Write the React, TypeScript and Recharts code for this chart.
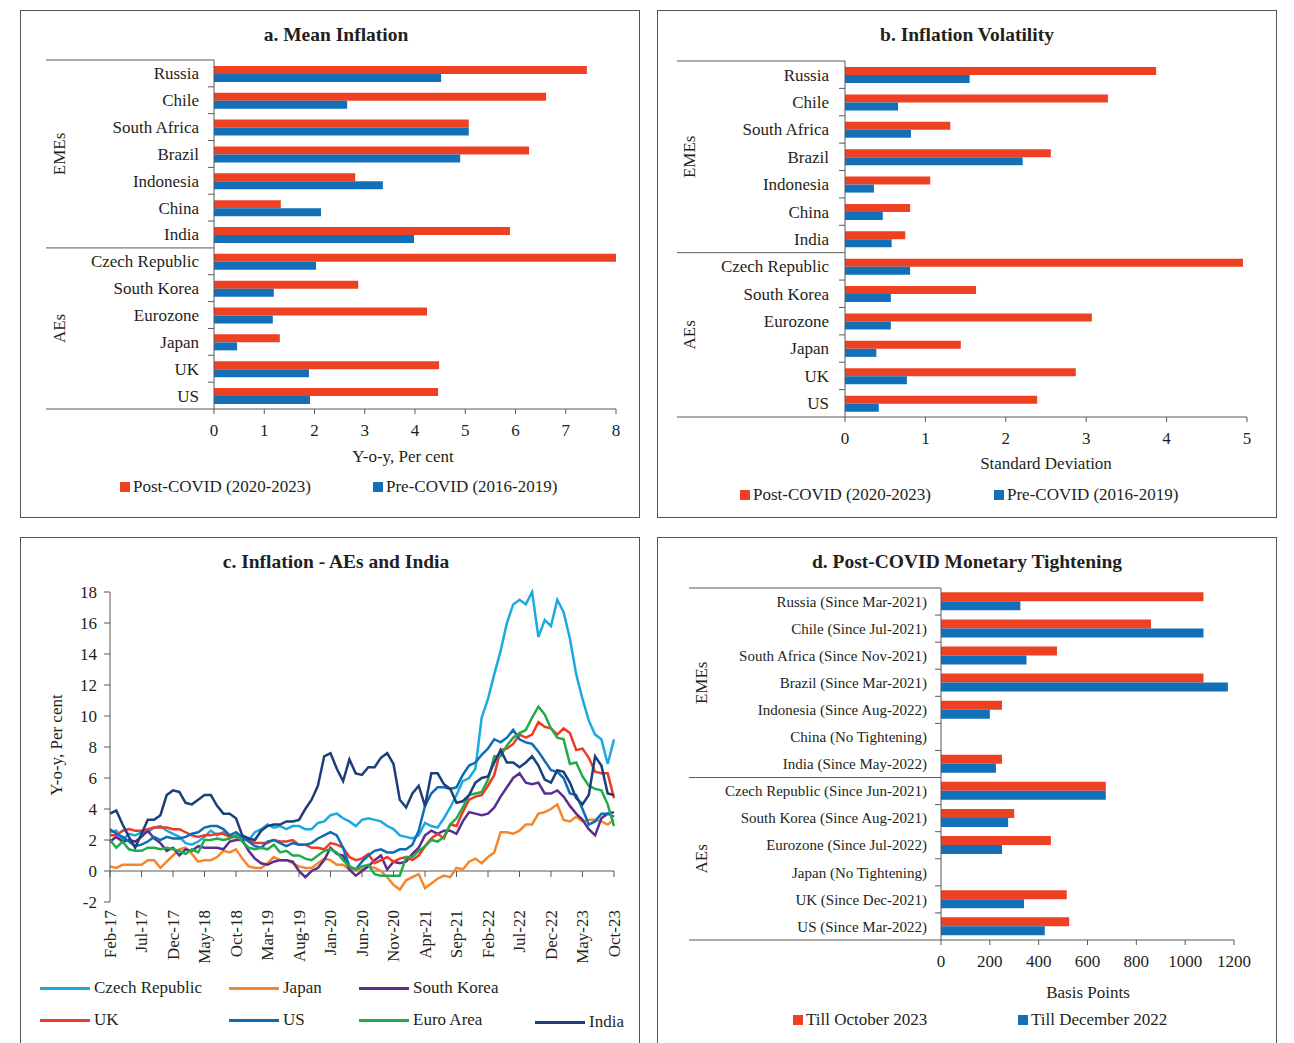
import React from "react";
import { BarChart, Bar, XAxis, YAxis, LineChart, Line, ReferenceLine } from "recharts";

const FONT = '"Liberation Serif", "Times New Roman", serif';
const INK = "#231f20";
const AXIS = "#595959";
const BORDER = "#555555";
const RED = "#ee4124";
const BLUE = "#1170b8";

// ---- panels a and b ----
const countries = [
  "Russia", "Chile", "South Africa", "Brazil", "Indonesia", "China", "India",
  "Czech Republic", "South Korea", "Eurozone", "Japan", "UK", "US",
];
const meanPost = [7.42, 6.61, 5.07, 6.27, 2.81, 1.33, 5.89, 8.0, 2.87, 4.24, 1.31, 4.48, 4.46];
const meanPre = [4.52, 2.65, 5.07, 4.9, 3.36, 2.13, 3.98, 2.03, 1.19, 1.17, 0.46, 1.89, 1.91];
const volPost = [3.87, 3.27, 1.31, 2.56, 1.06, 0.81, 0.75, 4.95, 1.63, 3.07, 1.44, 2.87, 2.39];
const volPre = [1.55, 0.66, 0.82, 2.21, 0.36, 0.47, 0.58, 0.81, 0.57, 0.57, 0.39, 0.77, 0.42];
const meanTicks = [0, 1, 2, 3, 4, 5, 6, 7, 8];
const volTicks = [0, 1, 2, 3, 4, 5];

// ---- panel d ----
const tightLabels = [
  "Russia (Since Mar-2021)", "Chile (Since Jul-2021)", "South Africa (Since Nov-2021)",
  "Brazil (Since Mar-2021)", "Indonesia (Since Aug-2022)", "China (No Tightening)",
  "India (Since May-2022)", "Czech Republic (Since Jun-2021)", "South Korea (Since Aug-2021)",
  "Eurozone (Since Jul-2022)", "Japan (No Tightening)", "UK (Since Dec-2021)", "US (Since Mar-2022)",
];
const tightOct23 = [1075, 860, 475, 1075, 250, null, 250, 675, 300, 450, null, 515, 525];
const tightDec22 = [325, 1075, 350, 1175, 200, null, 225, 675, 275, 250, null, 340, 425];
const bpTicks = [0, 200, 400, 600, 800, 1000, 1200];

// ---- panel c: monthly, Feb-17 .. Oct-23 ----
const MONTH_NAMES = ["Jan", "Feb", "Mar", "Apr", "May", "Jun", "Jul", "Aug", "Sep", "Oct", "Nov", "Dec"];
const months: string[] = [];
for (let i = 0; i < 81; i++) {
  months.push(`${MONTH_NAMES[(1 + i) % 12]}-${17 + Math.floor((1 + i) / 12)}`);
}
const czech = [
  2.5, 2.6, 2.0, 2.4, 2.3, 2.5, 2.5, 2.8, 2.9, 2.6, 2.4,
  2.2, 1.8, 1.7, 1.9, 2.2, 2.6, 2.3, 2.5, 2.3, 2.2, 2.0, 2.0,
  2.5, 2.7, 3.0, 2.8, 2.9, 2.7, 2.9, 2.9, 2.7, 2.7, 3.1, 3.2,
  3.6, 3.7, 3.4, 3.2, 2.9, 3.3, 3.4, 3.3, 3.2, 2.9, 2.7, 2.3,
  2.2, 2.1, 2.3, 3.1, 2.9, 2.8, 3.4, 4.1, 4.9, 5.8, 6.0, 6.6,
  9.9, 11.1, 12.7, 14.2, 16.0, 17.2, 17.5, 17.2, 18.0, 15.1, 16.2, 15.8,
  17.5, 16.7, 15.0, 12.7, 11.1, 9.7, 8.8, 8.5, 6.9, 8.5,
];
const japan = [
  0.3, 0.2, 0.4, 0.4, 0.4, 0.4, 0.7, 0.7, 0.2, 0.6, 1.0,
  1.4, 1.5, 1.1, 0.6, 0.7, 0.7, 0.9, 1.3, 1.2, 1.4, 0.8, 0.3,
  0.2, 0.2, 0.5, 0.9, 0.7, 0.7, 0.5, 0.3, 0.2, 0.2, 0.5, 0.8,
  0.7, 0.4, 0.4, 0.1, 0.1, 0.1, 0.3, 0.2, 0.0, -0.4, -0.9, -1.2,
  -0.6, -0.4, -0.2, -1.1, -0.8, -0.5, -0.3, -0.4, 0.2, 0.1, 0.6, 0.8,
  0.5, 0.9, 1.2, 2.5, 2.5, 2.4, 2.6, 3.0, 3.0, 3.7, 3.8, 4.0,
  4.3, 3.3, 3.2, 3.5, 3.2, 3.3, 3.3, 3.2, 3.0, 3.3,
];
const korea = [
  1.9, 2.2, 1.9, 2.0, 1.9, 2.2, 2.6, 2.1, 1.8, 1.3, 1.5,
  1.0, 1.4, 1.3, 1.6, 1.5, 1.5, 1.5, 1.4, 1.9, 2.0, 2.0, 1.3,
  0.8, 0.5, 0.4, 0.6, 0.7, 0.7, 0.6, 0.0, -0.4, 0.0, 0.2, 0.7,
  1.5, 1.1, 1.0, 0.1, -0.3, 0.0, 0.3, 0.7, 1.0, 0.1, 0.6, 0.5,
  0.6, 1.1, 1.5, 2.3, 2.6, 2.4, 2.6, 2.6, 2.4, 3.2, 3.8, 3.7,
  3.6, 3.7, 4.1, 4.8, 5.4, 6.0, 6.3, 5.7, 5.6, 5.7, 5.0, 5.0,
  5.2, 4.8, 4.2, 3.7, 3.3, 2.7, 2.3, 3.4, 3.7, 3.8,
];
const uk = [
  2.3, 2.3, 2.6, 2.7, 2.6, 2.6, 2.7, 2.8, 2.8, 2.8, 2.7,
  2.7, 2.5, 2.3, 2.2, 2.3, 2.3, 2.4, 2.4, 2.2, 2.2, 2.2, 2.0,
  1.8, 1.8, 1.8, 2.0, 1.9, 1.9, 2.0, 1.7, 1.7, 1.5, 1.5, 1.4,
  1.8, 1.7, 1.5, 0.9, 0.7, 0.8, 1.1, 0.5, 0.7, 0.9, 0.6, 0.8,
  0.9, 0.7, 1.0, 1.6, 2.1, 2.4, 2.1, 3.0, 2.9, 3.8, 4.6, 4.8,
  4.9, 5.5, 6.2, 7.8, 7.9, 8.2, 8.8, 8.6, 8.8, 9.6, 9.3, 9.2,
  8.8, 9.2, 8.9, 7.8, 7.9, 7.3, 6.4, 6.3, 6.3, 4.7,
];
const us = [
  2.7, 2.4, 2.2, 1.9, 1.6, 1.7, 1.9, 2.2, 2.0, 2.2, 2.1,
  2.1, 2.2, 2.4, 2.5, 2.8, 2.9, 2.9, 2.7, 2.3, 2.5, 2.2, 1.9,
  1.6, 1.5, 1.9, 2.0, 1.8, 1.6, 1.8, 1.7, 1.7, 1.8, 2.1, 2.3,
  2.5, 2.3, 1.5, 0.3, 0.1, 0.6, 1.0, 1.3, 1.4, 1.2, 1.2, 1.4,
  1.4, 1.7, 2.6, 4.2, 5.0, 5.4, 5.4, 5.3, 5.4, 6.2, 6.8, 7.0,
  7.5, 7.9, 8.5, 8.3, 8.6, 9.1, 8.5, 8.3, 8.2, 7.7, 7.1, 6.5,
  6.4, 6.0, 5.0, 4.9, 4.0, 3.0, 3.2, 3.7, 3.7, 3.5,
];
const euro = [
  2.0, 1.5, 1.9, 1.4, 1.3, 1.3, 1.5, 1.5, 1.4, 1.5, 1.4,
  1.3, 1.1, 1.4, 1.2, 2.0, 2.0, 2.1, 2.0, 2.1, 2.3, 1.9, 1.5,
  1.4, 1.5, 1.4, 1.7, 1.2, 1.3, 1.0, 1.0, 0.8, 0.7, 1.0, 1.3,
  1.4, 1.2, 0.7, 0.3, 0.1, 0.3, 0.4, -0.2, -0.3, -0.3, -0.3, -0.3,
  0.9, 0.9, 1.3, 1.6, 2.0, 1.9, 2.2, 3.0, 3.4, 4.1, 4.9, 5.0,
  5.1, 5.9, 7.4, 7.4, 8.1, 8.6, 8.9, 9.1, 9.9, 10.6, 10.1, 9.2,
  8.6, 8.5, 6.9, 7.0, 6.1, 5.5, 5.3, 5.2, 4.3, 2.9,
];
const india = [
  3.7, 3.9, 3.0, 2.2, 1.5, 2.4, 3.3, 3.3, 3.6, 4.9, 5.2,
  5.1, 4.4, 4.3, 4.6, 4.9, 4.9, 4.2, 3.7, 3.7, 3.4, 2.3, 2.1,
  2.0, 2.6, 2.9, 3.0, 3.0, 3.2, 3.2, 3.3, 4.0, 4.6, 5.5, 7.4,
  7.6, 6.6, 5.8, 7.2, 6.3, 6.2, 6.7, 6.7, 7.3, 7.6, 6.9, 4.6,
  4.1, 5.0, 5.5, 4.2, 6.3, 6.3, 5.6, 5.3, 4.4, 4.5, 4.9, 5.7,
  6.0, 6.1, 7.0, 7.8, 7.0, 7.0, 6.7, 7.0, 7.4, 6.8, 5.9, 5.7,
  6.5, 6.4, 5.7, 4.7, 4.3, 4.9, 7.4, 6.8, 5.0, 4.9,
];
const pctTicks = [-2, 0, 2, 4, 6, 8, 10, 12, 14, 16, 18];

const lineSeries = [
  { key: "czech", name: "Czech Republic", color: "#1ca9e1", values: czech },
  { key: "japan", name: "Japan", color: "#f5862a", values: japan },
  { key: "korea", name: "South Korea", color: "#5c2d91", values: korea },
  { key: "uk", name: "UK", color: "#ee3b24", values: uk },
  { key: "us", name: "US", color: "#0c6db6", values: us },
  { key: "euro", name: "Euro Area", color: "#22ab4b", values: euro },
  { key: "india", name: "India", color: "#1c3f7b", values: india },
];
const lineRows = months.map((m, i) => {
  const row: Record<string, string | number> = { m };
  lineSeries.forEach((s) => (row[s.key] = s.values[i]));
  return row;
});

const tickStyle = { fontSize: 17, fill: INK, fontFamily: FONT };

function Label({ cx, cy, size = 17, bold = false, children }: any) {
  return (
    <div
      style={{
        position: "absolute", left: cx - 300, width: 600, top: cy - 11, lineHeight: "22px",
        textAlign: "center", fontSize: size, fontWeight: bold ? 700 : 400, color: INK,
        fontFamily: FONT, whiteSpace: "nowrap",
      }}
    >
      {children}
    </div>
  );
}

function SquareKey({ x, textX, cy, color, text }: any) {
  return (
    <>
      <div style={{ position: "absolute", left: x, top: cy - 5, width: 10, height: 10, background: color }} />
      <div style={{ position: "absolute", left: textX, top: cy - 11, lineHeight: "22px", fontSize: 17, color: INK, fontFamily: FONT, whiteSpace: "nowrap" }}>{text}</div>
    </>
  );
}

function LineKey({ x, textX, cy, color, text }: any) {
  return (
    <>
      <div style={{ position: "absolute", left: x, top: cy - 1.5, width: 50, height: 3, background: color }} />
      <div style={{ position: "absolute", left: textX, top: cy - 11, lineHeight: "22px", fontSize: 17, color: INK, fontFamily: FONT, whiteSpace: "nowrap" }}>{text}</div>
    </>
  );
}

// category ticks: label at band centre, tick marks on band boundaries, group rules and labels
function makeCategoryTick(o: { axisX: number; lineX0: number; band: number; fontSize: number; gap: number; groupX: number }) {
  return function CategoryTick(props: any) {
    const { y, payload, index } = props;
    const half = o.band / 2;
    const groupText = (cy: number, t: string) => (
      <text x={o.groupX} y={cy} dy="0.35em" textAnchor="middle" transform={`rotate(-90 ${o.groupX} ${cy})`} fontSize={17} fontFamily={FONT} fill={INK}>
        {t}
      </text>
    );
    return (
      <g>
        <text x={o.axisX - o.gap} y={y} dy="0.35em" textAnchor="end" fontSize={o.fontSize} fontFamily={FONT} fill={INK}>
          {payload.value}
        </text>
        {index !== 6 && index !== 12 && <line x1={o.axisX - 6} x2={o.axisX} y1={y + half} y2={y + half} stroke={AXIS} />}
        {index === 0 && <line x1={o.lineX0} x2={o.axisX} y1={y - half} y2={y - half} stroke={AXIS} />}
        {(index === 6 || index === 12) && <line x1={o.lineX0} x2={o.axisX} y1={y + half} y2={y + half} stroke={AXIS} />}
        {index === 3 && groupText(y, "EMEs")}
        {index === 9 && groupText(y + half, "AEs")}
      </g>
    );
  };
}

function BarPanel(p: any) {
  const rows = p.labels.map((name: string, i: number) => ({ name, post: p.post[i], pre: p.pre[i] }));
  const H = 506;
  const band = (p.plot.bottom - p.plot.top) / p.labels.length;
  return (
    <div style={{ position: "absolute", left: p.left, top: p.top, width: 620, height: p.boxH, border: `1px solid ${BORDER}`, boxSizing: "border-box" }}>
      <Label cx={p.titleX} cy={24} size={19.5} bold>{p.title}</Label>
      <div style={{ position: "absolute", left: 0, top: 0 }}>
        <BarChart
          layout="vertical"
          width={618}
          height={H}
          data={rows}
          margin={{ top: p.plot.top, right: 618 - p.plot.right, bottom: H - p.plot.bottom - 40, left: 0 }}
          barGap={0}
          barCategoryGap={p.gapPct}
        >
          <XAxis type="number" domain={[0, p.max]} ticks={p.ticks} height={40} tickSize={5} tickMargin={10} stroke={AXIS} tick={tickStyle} />
          <YAxis
            type="category"
            dataKey="name"
            width={p.plot.left}
            interval={0}
            stroke={AXIS}
            tickLine={false}
            tick={makeCategoryTick({ axisX: p.plot.left, lineX0: p.lineX0, band, fontSize: p.catFont, gap: p.catGap, groupX: p.groupX })}
          />
          <Bar dataKey="post" fill={RED} isAnimationActive={false} />
          <Bar dataKey="pre" fill={BLUE} isAnimationActive={false} />
        </BarChart>
      </div>
      <Label cx={p.xTitle[0]} cy={p.xTitle[1]}>{p.xTitle[2]}</Label>
      <SquareKey x={p.keyA} textX={p.keyA + 13} cy={p.keyY} color={RED} text={p.postName} />
      <SquareKey x={p.keyB} textX={p.keyB + 13} cy={p.keyY} color={BLUE} text={p.preName} />
    </div>
  );
}

// panel c geometry (inside the box border)
const C_PLOT = { left: 89, top: 54, right: 593, bottom: 364 };
const C_H = 440;
const C_ZERO_Y = C_PLOT.top + ((C_PLOT.bottom - C_PLOT.top) * 18) / 20;
const C_LABEL_TOP = 372;

function MonthTick(props: any) {
  const { x, payload } = props;
  return (
    <g>
      <line x1={x} x2={x} y1={C_ZERO_Y} y2={C_ZERO_Y + 6} stroke={AXIS} />
      <text x={x} y={C_LABEL_TOP} dy="0.35em" textAnchor="end" transform={`rotate(-90 ${x} ${C_LABEL_TOP})`} fontSize={17} fontFamily={FONT} fill={INK}>
        {payload.value}
      </text>
    </g>
  );
}

function LinePanel() {
  const keys = [
    { x: 19, cy: 450 }, { x: 208, cy: 450 }, { x: 338, cy: 450 },
    { x: 19, cy: 482 }, { x: 208, cy: 482 }, { x: 338, cy: 482 }, { x: 514, cy: 484 },
  ];
  return (
    <div style={{ position: "absolute", left: 20, top: 537, width: 620, height: 520, border: `1px solid ${BORDER}`, boxSizing: "border-box" }}>
      <Label cx={315} cy={24} size={19.5} bold>c. Inflation - AEs and India</Label>
      <div style={{ position: "absolute", left: 0, top: 0 }}>
        <LineChart width={618} height={C_H} data={lineRows} margin={{ top: C_PLOT.top, right: 618 - C_PLOT.right, bottom: C_H - C_PLOT.bottom - 70, left: 0 }}>
          <XAxis dataKey="m" interval={4} height={70} axisLine={false} tickLine={false} tick={<MonthTick />} />
          <YAxis domain={[-2, 18]} ticks={pctTicks} width={C_PLOT.left} tickSize={6} tickMargin={7} stroke={AXIS} tick={tickStyle} />
          <ReferenceLine y={0} stroke={AXIS} />
          {lineSeries.map((s) => (
            <Line key={s.key} dataKey={s.key} name={s.name} stroke={s.color} strokeWidth={2.5} dot={false} type="linear" isAnimationActive={false} />
          ))}
        </LineChart>
      </div>
      <div
        style={{
          position: "absolute", left: 36 - 60, top: 207 - 11, width: 120, lineHeight: "22px", textAlign: "center",
          transform: "rotate(-90deg)", fontSize: 17, color: INK, fontFamily: FONT, whiteSpace: "nowrap",
        }}
      >
        Y-o-y, Per cent
      </div>
      {lineSeries.map((s, i) => (
        <LineKey key={s.key} x={keys[i].x} textX={keys[i].x + 54} cy={keys[i].cy} color={s.color} text={s.name} />
      ))}
    </div>
  );
}

export default function App() {
  return (
    <div style={{ position: "absolute", left: 0, top: 0, width: 1294, height: 1043, overflow: "hidden", background: "#fff" }}>
      <BarPanel
        left={20} top={10} boxH={508}
        title="a. Mean Inflation" titleX={315}
        labels={countries} post={meanPost} pre={meanPre} max={8} ticks={meanTicks}
        plot={{ left: 193, top: 49, right: 595, bottom: 398 }}
        catFont={17} catGap={15} lineX0={25} groupX={38} gapPct="22%"
        xTitle={[382, 446, "Y-o-y, Per cent"]}
        keyA={99} keyB={352} keyY={476}
        postName="Post-COVID (2020-2023)" preName="Pre-COVID (2016-2019)"
      />
      <BarPanel
        left={657} top={10} boxH={508}
        title="b. Inflation Volatility" titleX={309}
        labels={countries} post={volPost} pre={volPre} max={5} ticks={volTicks}
        plot={{ left: 187, top: 50, right: 589, bottom: 406 }}
        catFont={17} catGap={16} lineX0={19} groupX={31} gapPct="22%"
        xTitle={[388, 453, "Standard Deviation"]}
        keyA={82} keyB={336} keyY={484}
        postName="Post-COVID (2020-2023)" preName="Pre-COVID (2016-2019)"
      />
      <LinePanel />
      <BarPanel
        left={657} top={537} boxH={520}
        title="d. Post-COVID Monetary Tightening" titleX={309}
        labels={tightLabels} post={tightOct23} pre={tightDec22} max={1200} ticks={bpTicks}
        plot={{ left: 283, top: 50, right: 576, bottom: 402 }}
        catFont={15} catGap={14} lineX0={31} groupX={43} gapPct="16%"
        xTitle={[430, 455, "Basis Points"]}
        keyA={135} keyB={360} keyY={482}
        postName="Till October 2023" preName="Till December 2022"
      />
    </div>
  );
}
